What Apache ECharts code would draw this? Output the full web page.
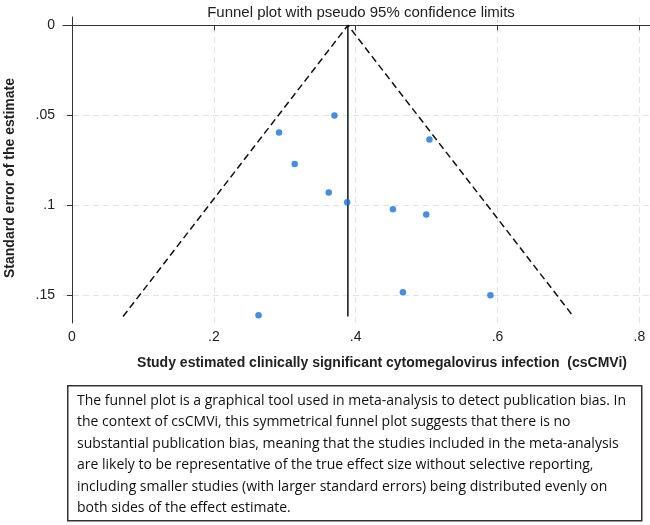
<!DOCTYPE html>
<html>
<head>
<meta charset="utf-8">
<script src="https://cdn.jsdelivr.net/npm/echarts@6/dist/echarts.min.js"></script>
<style>
  html, body { margin: 0; padding: 0; background: #fff; }
  #chart { width: 650px; height: 525px; }
</style>
</head>
<body>
<div id="chart"></div>
<script>
// study estimates (x) and their standard errors (y)
const estimates = [0.370, 0.292, 0.504, 0.314, 0.362, 0.388, 0.4525, 0.4995, 0.263, 0.4666, 0.590];
const stdErrors = [0.0502, 0.0596, 0.0635, 0.0772, 0.093, 0.0985, 0.1024, 0.1052, 0.1613, 0.1485, 0.1502];

// pooled estimate and pseudo 95% limits at the largest standard error
const pooled = 0.389;
const seMax = 0.162;
const limitLeft = 0.072;
const limitRight = 0.707;

const xTicks = [0, 0.2, 0.4, 0.6, 0.8];
const yTicks = [0, 0.05, 0.1, 0.15];

const noteLines = [
    'The funnel plot is a graphical tool used in meta-analysis to detect publication bias. In',
    'the context of csCMVi, this symmetrical funnel plot suggests that there is no',
    'substantial publication bias, meaning that the studies included in the meta-analysis',
    'are likely to be representative of the true effect size without selective reporting,',
    'including smaller studies (with larger standard errors) being distributed evenly on',
    'both sides of the effect estimate.'
];

// Stata style labels: .05 instead of 0.05
const stataLabel = v => (v === 0 ? '0' : String(v).replace(/^0/, ''));

const chart = echarts.init(document.getElementById('chart'));

const gridDash = { color: '#e3e3e3', width: 1, type: [6, 4] };
const labelFont = { fontFamily: 'Liberation Sans', fontSize: 14, color: '#222' };
const nameFont = { fontFamily: 'Liberation Sans', fontSize: 14, fontWeight: 'bold', fill: '#222' };

const option = {
    animation: false,
    title: {
        text: 'Funnel plot with pseudo 95% confidence limits',
        left: 356,
        top: 0,
        textAlign: 'center',
        textStyle: { fontFamily: 'Liberation Sans', fontSize: 15, fontWeight: 'normal', color: '#222' }
    },
    grid: { left: 63, right: 0, top: 17, bottom: 202, outerBoundsMode: 'none' },
    xAxis: {
        type: 'value',
        min: -0.0127,
        max: 0.815,
        axisLine: { lineStyle: { color: '#333', width: 1 } },
        axisTick: { customValues: xTicks, length: 5, lineStyle: { color: '#333' } },
        axisLabel: Object.assign({ customValues: xTicks, formatter: stataLabel, margin: 7 }, labelFont),
        splitLine: { show: true, lineStyle: gridDash }
    },
    yAxis: {
        type: 'value',
        inverse: true,
        min: -0.0046,
        max: 0.1656,
        axisLine: { show: true, lineStyle: { color: '#333', width: 1 } },
        axisTick: { show: true, customValues: yTicks, length: 5, lineStyle: { color: '#333' } },
        axisLabel: Object.assign({ customValues: yTicks, formatter: stataLabel, margin: 8 }, labelFont),
        splitLine: { show: true, lineStyle: gridDash }
    },
    series: [
        {
            type: 'line',
            data: [[limitLeft, seMax], [pooled, 0], [limitRight, seMax]],
            symbol: 'none',
            lineStyle: { color: '#111', width: 1.5, type: [7, 4] },
            z: 2
        },
        {
            type: 'line',
            data: [[pooled, 0], [pooled, seMax]],
            symbol: 'none',
            lineStyle: { color: '#111', width: 1.5 },
            z: 2
        },
        {
            type: 'scatter',
            data: estimates.map((x, i) => [x, stdErrors[i]]),
            symbolSize: 6.5,
            itemStyle: { color: '#1672db' },
            z: 3
        }
    ],
    graphic: [
        {
            type: 'text',
            x: 382,
            y: 363,
            style: Object.assign({
                text: 'Study estimated clinically significant cytomegalovirus infection  (csCMVi)',
                align: 'center',
                verticalAlign: 'middle'
            }, nameFont)
        },
        {
            type: 'text',
            x: 10,
            y: 178,
            rotation: Math.PI / 2,
            style: Object.assign({
                text: 'Standard error of the estimate',
                align: 'center',
                verticalAlign: 'middle'
            }, nameFont)
        },
        {
            type: 'rect',
            left: 67,
            top: 385,
            shape: { width: 574, height: 135 },
            style: { fill: '#fff', stroke: '#333', lineWidth: 1.5 }
        },
        {
            type: 'text',
            left: 77,
            top: 390,
            style: {
                text: noteLines.join('\n'),
                fontFamily: 'Open Sans',
                fontSize: 14,
                lineHeight: 21.5,
                fill: '#111'
            }
        }
    ]
};

chart.setOption(option);
window.addEventListener('resize', chart.resize);
</script>
</body>
</html>
